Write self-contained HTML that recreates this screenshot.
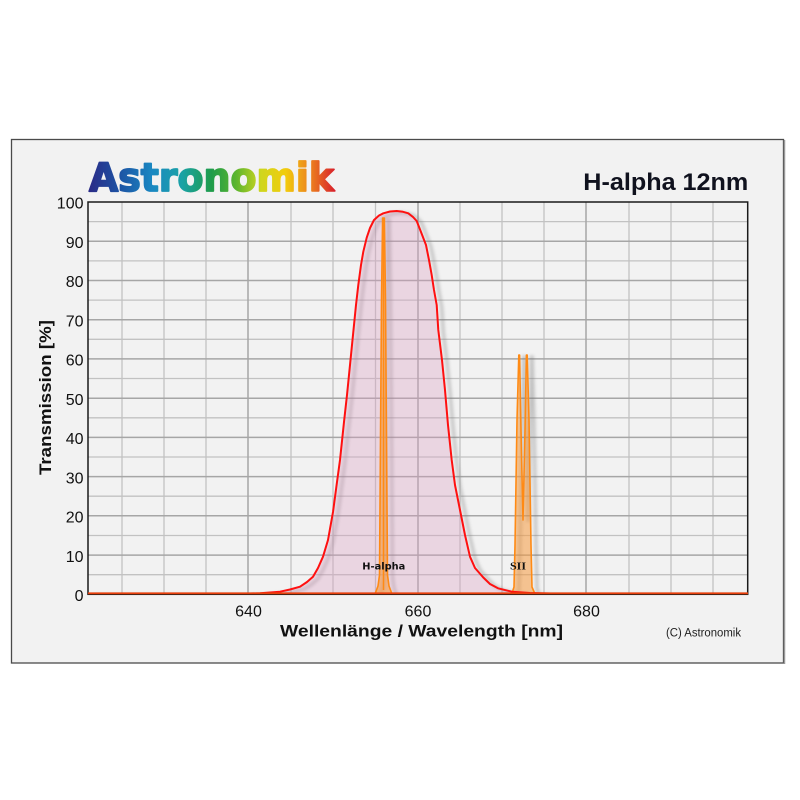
<!DOCTYPE html>
<html>
<head>
<meta charset="utf-8">
<style>
  html,body{margin:0;padding:0;background:#ffffff;}
  svg{display:block;}
</style>
</head>
<body>
<svg width="800" height="800" viewBox="0 0 800 800" xmlns="http://www.w3.org/2000/svg">
  <defs>
    <linearGradient id="logo" x1="88" y1="0" x2="335" y2="0" gradientUnits="userSpaceOnUse">
      <stop offset="0" stop-color="#2b2a86"/>
      <stop offset="0.12" stop-color="#1d50a2"/>
      <stop offset="0.26" stop-color="#1a88c2"/>
      <stop offset="0.38" stop-color="#1aa2a6"/>
      <stop offset="0.5" stop-color="#1f9c4a"/>
      <stop offset="0.6" stop-color="#5cb52e"/>
      <stop offset="0.7" stop-color="#cfd61e"/>
      <stop offset="0.8" stop-color="#f2cc0c"/>
      <stop offset="0.9" stop-color="#ec821e"/>
      <stop offset="1" stop-color="#d8202c"/>
    </linearGradient>
    <filter id="blur" x="-20%" y="-20%" width="140%" height="140%">
      <feGaussianBlur stdDeviation="1.6"/>
    </filter>
    <clipPath id="plotclip">
      <rect x="88" y="202" width="660" height="392.5"/>
    </clipPath>
  </defs>

  <!-- page -->
  <rect x="0" y="0" width="800" height="800" fill="#ffffff"/>
  <!-- frame -->
  <rect x="11.5" y="139.5" width="772" height="523.5" fill="#f2f2f2" stroke="#4a4a4a" stroke-width="1.3"/>
  <line x1="784.5" y1="140" x2="784.5" y2="664" stroke="#9a9a9a" stroke-width="1.5"/>

  <!-- plot bg -->
  <rect x="88" y="202" width="660" height="392.3" fill="#f2f2f2"/>

  <!-- grid minor -->
  <g stroke="#c2c2c2" stroke-width="1.3">
    <line x1="122" y1="202" x2="122" y2="594"/>
    <line x1="164" y1="202" x2="164" y2="594"/>
    <line x1="206" y1="202" x2="206" y2="594"/>
    <line x1="291" y1="202" x2="291" y2="594"/>
    <line x1="333" y1="202" x2="333" y2="594"/>
    <line x1="375.5" y1="202" x2="375.5" y2="594"/>
    <line x1="460" y1="202" x2="460" y2="594"/>
    <line x1="502" y1="202" x2="502" y2="594"/>
    <line x1="544" y1="202" x2="544" y2="594"/>
    <line x1="629" y1="202" x2="629" y2="594"/>
    <line x1="671" y1="202" x2="671" y2="594"/>
    <line x1="713" y1="202" x2="713" y2="594"/>
    <line x1="88" y1="574.7" x2="748" y2="574.7"/>
    <line x1="88" y1="535.5" x2="748" y2="535.5"/>
    <line x1="88" y1="496.2" x2="748" y2="496.2"/>
    <line x1="88" y1="457.0" x2="748" y2="457.0"/>
    <line x1="88" y1="417.8" x2="748" y2="417.8"/>
    <line x1="88" y1="378.5" x2="748" y2="378.5"/>
    <line x1="88" y1="339.3" x2="748" y2="339.3"/>
    <line x1="88" y1="300.1" x2="748" y2="300.1"/>
    <line x1="88" y1="260.9" x2="748" y2="260.9"/>
    <line x1="88" y1="221.6" x2="748" y2="221.6"/>
  </g>
  <!-- grid major -->
  <g stroke="#a6a6a6" stroke-width="1.5">
    <line x1="248" y1="202" x2="248" y2="594"/>
    <line x1="418" y1="202" x2="418" y2="594"/>
    <line x1="586" y1="202" x2="586" y2="594"/>
    <line x1="88" y1="555.1" x2="748" y2="555.1"/>
    <line x1="88" y1="515.8" x2="748" y2="515.8"/>
    <line x1="88" y1="476.6" x2="748" y2="476.6"/>
    <line x1="88" y1="437.4" x2="748" y2="437.4"/>
    <line x1="88" y1="398.2" x2="748" y2="398.2"/>
    <line x1="88" y1="358.9" x2="748" y2="358.9"/>
    <line x1="88" y1="319.7" x2="748" y2="319.7"/>
    <line x1="88" y1="280.5" x2="748" y2="280.5"/>
    <line x1="88" y1="241.2" x2="748" y2="241.2"/>
  </g>

  <g clip-path="url(#plotclip)">
    <!-- shadows -->
    <g transform="translate(5,2)" filter="url(#blur)" opacity="0.4">
      <path d="M88,594 L240,593.8 L260,593.3 L280,591.7 L290,589.5 L300,586.7 L307,582 L313,576.7 L318,568 L323,556.7 L328,540 L333,512 L337,482 L340,460 L344,422 L347,395 L350,365 L353,335 L356,305 L358.3,285 L361,265 L363.3,251.7 L366.7,237.7 L370,228 L374,220 L379,215.5 L383.3,213.3 L390,211.5 L396.7,211 L403,211.8 L408.3,213.3 L413,217 L416.7,221 L421,232 L426,245 L429,260 L431.7,275 L434,290 L436.7,305 L438.3,330 L442,360 L445,390 L448,425 L451.7,460 L455,485 L460,510 L465,535 L470,556.7 L475,568 L483.3,577.5 L490,584 L498,588.3 L512,591.7 L530,593 L560,593.8 L748,594" fill="none" stroke="#777" stroke-width="3"/>
      <path d="M375,594 L378,586 L379.5,575 L381.5,300 L382.6,218 L384.4,218 L385.5,300 L387.5,575 L389,586 L392,594 Z" fill="none" stroke="#777" stroke-width="3"/>
      <path d="M511.7,594 L514,587 L515,545 L517,420 L518.8,355 L519.6,355 L521,430 L523,520 L525,430 L526.4,355 L527.2,355 L529,420 L531,545 L532,587 L535,594 Z" fill="none" stroke="#777" stroke-width="3"/>
    </g>

    <!-- pink fill -->
    <path d="M88,594 L240,593.8 L260,593.3 L280,591.7 L290,589.5 L300,586.7 L307,582 L313,576.7 L318,568 L323,556.7 L328,540 L333,512 L337,482 L340,460 L344,422 L347,395 L350,365 L353,335 L356,305 L358.3,285 L361,265 L363.3,251.7 L366.7,237.7 L370,228 L374,220 L379,215.5 L383.3,213.3 L390,211.5 L396.7,211 L403,211.8 L408.3,213.3 L413,217 L416.7,221 L421,232 L426,245 L429,260 L431.7,275 L434,290 L436.7,305 L438.3,330 L442,360 L445,390 L448,425 L451.7,460 L455,485 L460,510 L465,535 L470,556.7 L475,568 L483.3,577.5 L490,584 L498,588.3 L512,591.7 L530,593 L560,593.8 L748,594 Z" fill="#dc9fc2" fill-opacity="0.34" stroke="none"/>

    <!-- orange peaks -->
    <path d="M375,594 L378,586 L379.5,575 L381.5,300 L382.6,218 L384.4,218 L385.5,300 L387.5,575 L389,586 L392,594 Z" fill="#f59a40" fill-opacity="0.6" stroke="#ff8a14" stroke-width="1.6" stroke-linejoin="round"/>
    <line x1="383.5" y1="218" x2="383.5" y2="590" stroke="#ff8a14" stroke-width="1.5"/>
    <path d="M511.7,594 L514,587 L515,545 L517,420 L518.8,355 L519.6,355 L521,430 L523,520 L525,430 L526.4,355 L527.2,355 L529,420 L531,545 L532,587 L535,594 Z" fill="#f59a40" fill-opacity="0.55" stroke="#ff8a14" stroke-width="1.6" stroke-linejoin="round"/>

    <!-- red curve -->
    <path d="M88,594 L240,593.8 L260,593.3 L280,591.7 L290,589.5 L300,586.7 L307,582 L313,576.7 L318,568 L323,556.7 L328,540 L333,512 L337,482 L340,460 L344,422 L347,395 L350,365 L353,335 L356,305 L358.3,285 L361,265 L363.3,251.7 L366.7,237.7 L370,228 L374,220 L379,215.5 L383.3,213.3 L390,211.5 L396.7,211 L403,211.8 L408.3,213.3 L413,217 L416.7,221 L421,232 L426,245 L429,260 L431.7,275 L434,290 L436.7,305 L438.3,330 L442,360 L445,390 L448,425 L451.7,460 L455,485 L460,510 L465,535 L470,556.7 L475,568 L483.3,577.5 L490,584 L498,588.3 L512,591.7 L530,593 L560,593.8 L748,594" fill="none" stroke="#ff1010" stroke-width="2" stroke-linejoin="round"/>
  </g>

  <!-- plot border -->
  <rect x="88" y="202" width="659.7" height="392.3" fill="none" stroke="#1a1a1a" stroke-width="1.5"/>
  <line x1="88" y1="593.3" x2="748" y2="593.3" stroke="#e8400c" stroke-width="1.8"/>

  <!-- series labels -->
  <text x="362.3" y="569.3" font-family="'DejaVu Sans', 'Liberation Sans', sans-serif" font-weight="bold" font-size="10" textLength="43" lengthAdjust="spacingAndGlyphs" fill="#111">H-alpha</text>
  <text x="510" y="569.3" font-family="'Liberation Serif', serif" font-weight="bold" font-size="11" textLength="16" lengthAdjust="spacingAndGlyphs" fill="#111">SII</text>

  <!-- y tick labels -->
  <g font-family="'Liberation Sans', sans-serif" font-size="16" fill="#111" text-anchor="end">
    <text x="83.5" y="208.7">100</text>
    <text x="83.5" y="247.9">90</text>
    <text x="83.5" y="287.2">80</text>
    <text x="83.5" y="326.4">70</text>
    <text x="83.5" y="365.6">60</text>
    <text x="83.5" y="404.9">50</text>
    <text x="83.5" y="444.1">40</text>
    <text x="83.5" y="483.3">30</text>
    <text x="83.5" y="522.5">20</text>
    <text x="83.5" y="561.8">10</text>
    <text x="83.5" y="601">0</text>
  </g>
  <!-- x tick labels -->
  <g font-family="'Liberation Sans', sans-serif" font-size="16" fill="#111" text-anchor="middle">
    <text x="248.5" y="616.3">640</text>
    <text x="418" y="616.3">660</text>
    <text x="586.5" y="616.3">680</text>
  </g>

  <!-- axis titles -->
  <text x="280" y="636.7" font-family="'Liberation Sans', sans-serif" font-weight="bold" font-size="17" textLength="283" lengthAdjust="spacingAndGlyphs" fill="#111">Wellenlänge / Wavelength [nm]</text>
  <text transform="translate(51,475) rotate(-90)" x="0" y="0" font-family="'Liberation Sans', sans-serif" font-weight="bold" font-size="17" textLength="155" lengthAdjust="spacingAndGlyphs" fill="#111">Transmission [%]</text>

  <!-- copyright -->
  <text x="666" y="636.7" font-family="'Liberation Sans', sans-serif" font-size="11.5" textLength="75" lengthAdjust="spacingAndGlyphs" fill="#222">(C) Astronomik</text>

  <!-- title -->
  <text x="583.3" y="190" font-family="'Liberation Sans', sans-serif" font-weight="bold" font-size="24" textLength="165" lengthAdjust="spacingAndGlyphs" fill="#10121e">H-alpha 12nm</text>

  <!-- logo -->
  <text x="89" y="191" font-family="'DejaVu Sans', 'Liberation Sans', sans-serif" font-weight="bold" font-size="39" textLength="245" lengthAdjust="spacingAndGlyphs" fill="url(#logo)" stroke="url(#logo)" stroke-width="1.8" stroke-linejoin="round">Astronomik</text>
</svg>
</body>
</html>
